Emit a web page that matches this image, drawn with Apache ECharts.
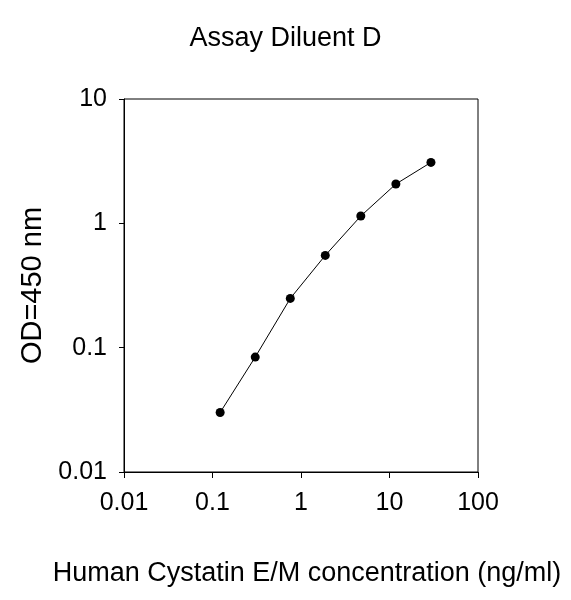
<!DOCTYPE html>
<html>
<head>
<meta charset="utf-8">
<script src="https://cdn.jsdelivr.net/npm/echarts@6/dist/echarts.min.js"></script>
<style>
  html, body { margin: 0; padding: 0; background: #fff; }
  #main { width: 571px; height: 600px; }
</style>
</head>
<body>
<div id="main"></div>
<script>
// concentration (ng/ml) and OD readings
const concentration = [0.122, 0.304, 0.757, 1.88, 4.74, 11.8, 29.4];
const od450 = [0.0301, 0.084, 0.249, 0.552, 1.145, 2.07, 3.09];
const xTicks = ['0.01', '0.1', '1', '10', '100'];
const yTicks = ['0.01', '0.1', '1', '10'];

const font = 'Liberation Sans, Arial, sans-serif';
const fmt = v => String(+v.toPrecision(3));

const chart = echarts.init(document.getElementById('main'));
chart.setOption({
  animation: false,
  backgroundColor: '#fff',
  title: {
    text: 'Assay Diluent D',
    left: 'center',
    top: 20,
    textStyle: { fontFamily: font, fontSize: 27, fontWeight: 'normal', color: '#000' }
  },
  grid: {
    left: 124, right: 93, top: 99, bottom: 128,
    show: true, borderColor: '#000', borderWidth: 1, backgroundColor: 'transparent'
  },
  xAxis: {
    type: 'log',
    logBase: 10,
    min: 0.01,
    max: 100,
    name: 'Human Cystatin E/M concentration (ng/ml)',
    nameLocation: 'middle',
    nameGap: 88,
    nameTextStyle: { fontFamily: font, fontSize: 27, color: '#000', padding: [0, 0, 0, 12] },
    axisLine: { lineStyle: { color: '#000', width: 1 } },
    axisTick: { show: true, inside: false, length: 6, lineStyle: { color: '#000' } },
    minorTick: { show: false },
    splitLine: { show: false },
    axisLabel: {
      fontFamily: font, fontSize: 25, color: '#000', margin: 19,
      formatter: v => xTicks.includes(fmt(v)) ? fmt(v) : ''
    }
  },
  yAxis: {
    type: 'log',
    logBase: 10,
    min: 0.01,
    max: 10,
    name: 'OD=450 nm',
    nameLocation: 'middle',
    nameGap: 77,
    nameTextStyle: { fontFamily: font, fontSize: 29, color: '#000' },
    axisLine: { lineStyle: { color: '#000', width: 1 } },
    axisTick: { show: true, inside: false, length: 5, lineStyle: { color: '#000' } },
    splitLine: { show: false },
    axisLabel: {
      fontFamily: font, fontSize: 25, color: '#000', margin: 17,
      formatter: v => yTicks.includes(fmt(v)) ? fmt(v) : ''
    }
  },
  series: [{
    type: 'line',
    data: concentration.map((c, i) => [c, od450[i]]),
    symbol: 'circle',
    symbolSize: 9,
    itemStyle: { color: '#000' },
    lineStyle: { color: '#000', width: 1 }
  }]
});
</script>
</body>
</html>
